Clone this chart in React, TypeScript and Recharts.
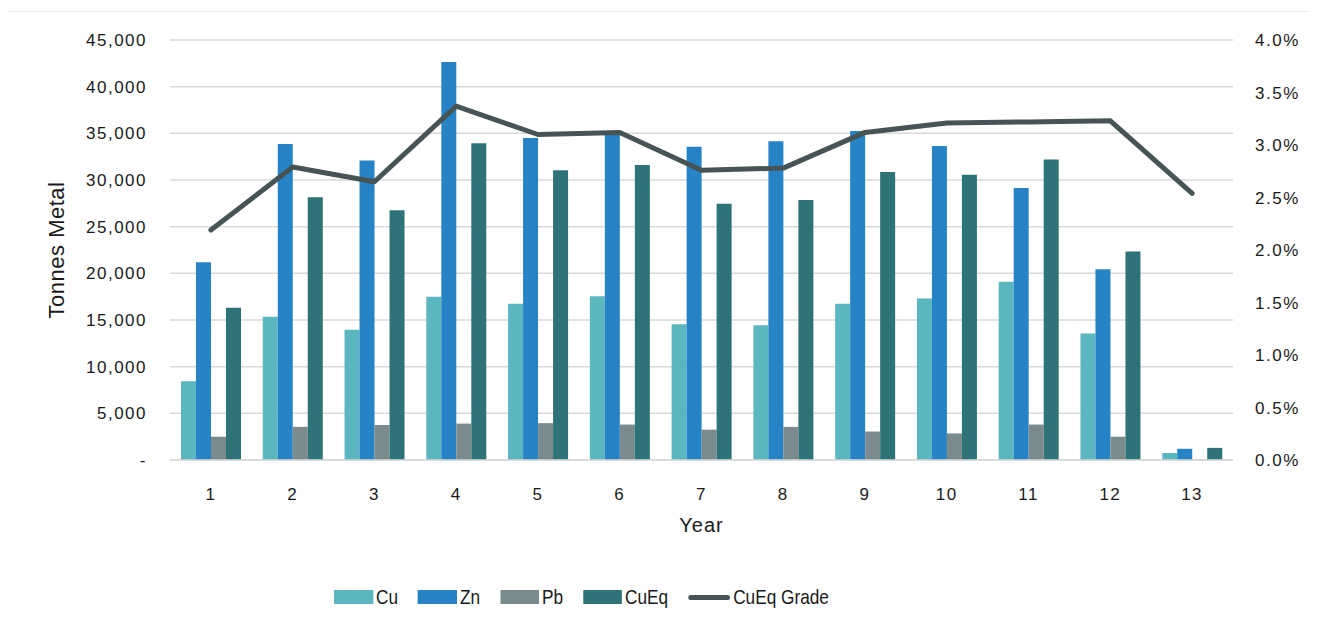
import React from 'react';
import { Bar, CartesianGrid, ComposedChart, Legend, Line, XAxis, YAxis } from 'recharts';

// Annual metal production (tonnes) with CuEq grade on the right axis.
const years = ['1', '2', '3', '4', '5', '6', '7', '8', '9', '10', '11', '12', '13'];
const cu = [8450, 15350, 13950, 17500, 16750, 17550, 14550, 14450, 16750, 17300, 19100, 13550, 750];
const zn = [21200, 33850, 32100, 42650, 34500, 35000, 33550, 34150, 35250, 33650, 29150, 20450, 1200];
const pb = [2500, 3550, 3750, 3900, 3950, 3800, 3250, 3550, 3050, 2850, 3800, 2500, 50];
const cuEq = [16300, 28150, 26750, 33950, 31050, 31600, 27450, 27850, 30850, 30550, 32200, 22350, 1300];
const cuEqGrade = [0.0219, 0.0279, 0.0265, 0.0337, 0.031, 0.0312, 0.0276, 0.0278, 0.0312, 0.0321, 0.0322, 0.0323, 0.0254];

const leftTicks = [0, 5000, 10000, 15000, 20000, 25000, 30000, 35000, 40000, 45000];
const rightTicks = [0, 0.005, 0.01, 0.015, 0.02, 0.025, 0.03, 0.035, 0.04];

const CU = '#5BB6BF';
const ZN = '#2683C6';
const PB = '#7B8B8D';
const CUEQ = '#2E7377';
const GRADE = '#475456';
const GRID = '#d9d9d9';
const INK = '#1a1a1a';
const FONT = '"Liberation Sans", Arial, sans-serif';

const rows = years.map((year, i) => ({
  year,
  cu: cu[i],
  zn: zn[i],
  pb: pb[i],
  cuEq: cuEq[i],
  grade: cuEqGrade[i],
}));

const tick = { fontSize: 17, fill: INK, fontFamily: FONT, letterSpacing: 1.5 } as const;

const legendItems = [
  { name: 'Cu', color: CU, kind: 'bar' },
  { name: 'Zn', color: ZN, kind: 'bar' },
  { name: 'Pb', color: PB, kind: 'bar' },
  { name: 'CuEq', color: CUEQ, kind: 'bar' },
  { name: 'CuEq Grade', color: GRADE, kind: 'line' },
];

// legend type is condensed in the original, so squeeze the whole row horizontally
const SQ = 0.82;

function LegendContent() {
  return (
    <div
      style={{
        display: 'flex',
        gap: 20 / SQ,
        fontFamily: FONT,
        fontSize: 21,
        color: INK,
        lineHeight: '26px',
        transform: `scaleX(${SQ})`,
        transformOrigin: 'left center',
        whiteSpace: 'nowrap',
      }}
    >
      {legendItems.map((it) => (
        <div key={it.name} style={{ display: 'flex', alignItems: 'center', gap: 3 / SQ }}>
          {it.kind === 'bar' ? (
            <span style={{ display: 'inline-block', width: 39 / SQ, height: 14, background: it.color }} />
          ) : (
            <span style={{ display: 'inline-block', width: 42 / SQ, height: 5, borderRadius: 3, background: it.color }} />
          )}
          <span>{it.name}</span>
        </div>
      ))}
    </div>
  );
}

const fmtLeft = (v: number) => (v === 0 ? '-' : v.toLocaleString('en-US'));
const fmtRight = (v: number) => `${(v * 100).toFixed(1)}%`;

export default function App() {
  return (
    <div style={{ margin: -8, width: 1317, height: 630, position: 'relative', background: '#fff', overflow: 'hidden' }}>
      <div style={{ position: 'absolute', left: 7, top: 11, width: 1320, height: 640, border: '1px solid #ececec' }} />
      <ComposedChart
        width={1317}
        height={630}
        data={rows}
        margin={{ top: 40, right: 14, left: 50, bottom: 66 }}
        barGap={0}
        style={{ position: 'absolute', left: 0, top: 0 }}
      >
        <CartesianGrid yAxisId="t" stroke={GRID} strokeWidth={1.5} vertical={false} />
        <XAxis
          dataKey="year"
          tick={tick}
          tickLine={false}
          axisLine={{ stroke: GRID, strokeWidth: 1.5 }}
          tickMargin={22}
          height={78}
          label={{ value: 'Year', position: 'insideBottom', offset: 6, style: { fontSize: 20, fill: INK, fontFamily: FONT, letterSpacing: 1 } }}
        />
        <YAxis
          yAxisId="t"
          domain={[0, 45000]}
          ticks={leftTicks}
          tickFormatter={fmtLeft}
          tick={tick}
          tickLine={false}
          axisLine={false}
          tickMargin={17}
          width={120}
          label={{ value: 'Tonnes Metal', angle: -90, position: 'insideLeft', offset: 0, dx: 6, style: { fontSize: 22, fill: INK, fontFamily: FONT, letterSpacing: 0.5, textAnchor: 'middle' } }}
        />
        <YAxis
          yAxisId="g"
          orientation="right"
          domain={[0, 0.04]}
          ticks={rightTicks}
          tickFormatter={fmtRight}
          tick={tick}
          tickLine={false}
          axisLine={false}
          tickMargin={16}
          width={70}
        />
        <Legend verticalAlign="bottom" content={<LegendContent />} wrapperStyle={{ height: 26, left: 334, top: 584, width: 'auto' }} />
        <Bar yAxisId="t" dataKey="cu" name="Cu" fill={CU} barSize={15} isAnimationActive={false} />
        <Bar yAxisId="t" dataKey="zn" name="Zn" fill={ZN} barSize={15} isAnimationActive={false} />
        <Bar yAxisId="t" dataKey="pb" name="Pb" fill={PB} barSize={15} isAnimationActive={false} />
        <Bar yAxisId="t" dataKey="cuEq" name="CuEq" fill={CUEQ} barSize={15} isAnimationActive={false} />
        <Line
          yAxisId="g"
          dataKey="grade"
          name="CuEq Grade"
          stroke={GRADE}
          strokeWidth={5}
          strokeLinecap="round"
          strokeLinejoin="round"
          dot={false}
          activeDot={false}
          isAnimationActive={false}
        />
      </ComposedChart>
    </div>
  );
}
